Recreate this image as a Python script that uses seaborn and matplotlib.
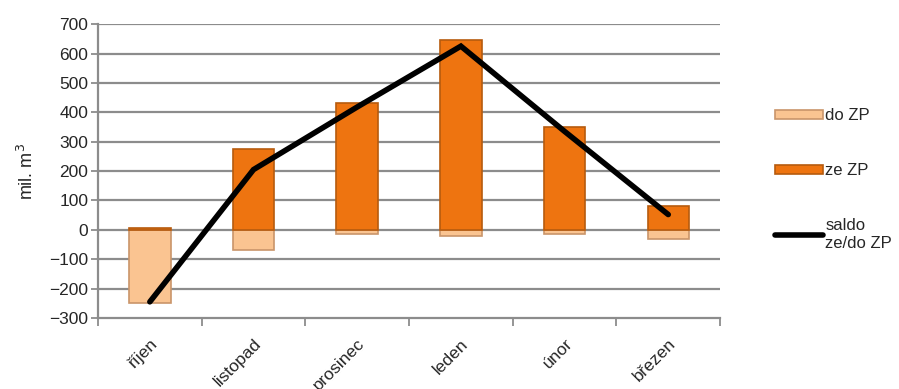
import matplotlib
matplotlib.use("Agg")
import matplotlib.pyplot as plt
import seaborn as sns
import pandas as pd
from matplotlib.patches import Patch
from matplotlib.lines import Line2D

months = ["říjen", "listopad", "prosinec", "leden", "únor", "březen"]
ze_zp = [5, 275, 432, 645, 350, 82]
do_zp = [-250, -70, -15, -20, -15, -30]
saldo = [-245, 205, 418, 625, 335, 52]

sns.set_theme(style="white")
plt.rcParams["font.family"] = ["Liberation Sans", "DejaVu Sans"]

df = pd.DataFrame({"month": months, "ze": ze_zp, "do": do_zp, "saldo": saldo})

fig = plt.figure(figsize=(8.99, 3.89), dpi=100)
ax = fig.add_axes([0.109, 0.1825, 0.692, 0.7555])

grid_c = "#8c8c8c"
ax.set_ylim(-300, 700)
ax.set_yticks(range(-300, 701, 100))
for v in range(-200, 701, 100):
    ax.axhline(v, color=grid_c, lw=1.6, zorder=0)

c_do, e_do = "#FAC491", "#C9956A"
c_ze, e_ze = "#EE7410", "#B65B0E"

sns.barplot(data=df, x="month", y="do", ax=ax, color=c_do, width=0.4,
            edgecolor=e_do, linewidth=1.2, saturation=1, zorder=2)
sns.barplot(data=df, x="month", y="ze", ax=ax, color=c_ze, width=0.4,
            edgecolor=e_ze, linewidth=1.2, saturation=1, zorder=2)
sns.lineplot(data=df, x="month", y="saldo", ax=ax, color="black", lw=4,
             zorder=3, solid_capstyle="round", solid_joinstyle="miter")

ax.set_xlim(-0.5, 5.5)
ax.set_xticks([i - 0.5 for i in range(7)], minor=False)
ax.set_xticklabels([])
ax.set_xticks(range(6), minor=True)
ax.set_xticklabels(months, minor=True, rotation=45, ha="right",
                   rotation_mode="anchor", fontsize=12.5)
ax.tick_params(axis="x", which="major", length=6, width=1.3, color=grid_c,
               direction="out", bottom=True)
ax.tick_params(axis="x", which="minor", length=0, pad=13)
ax.tick_params(axis="y", length=5, width=1.3, color=grid_c, direction="out",
               left=True, labelsize=12.5, pad=2)

for s in ["top", "right"]:
    ax.spines[s].set_visible(False)
for s in ["left", "bottom"]:
    ax.spines[s].set_color(grid_c)
    ax.spines[s].set_linewidth(1.6)

ax.set_xlabel("")
ax.set_ylabel("mil. m$^3$", fontsize=13, labelpad=9)

handles = [
    Patch(facecolor=c_do, edgecolor=e_do, linewidth=1.2),
    Patch(facecolor=c_ze, edgecolor=e_ze, linewidth=1.2),
    Line2D([0], [0], color="black", lw=4),
]
labels = ["do ZP", "ze ZP", "saldo\nze/do ZP"]
fig.legend(handles, labels, loc="upper left", bbox_to_anchor=(0.845, 0.76),
           frameon=False, fontsize=12, handlelength=2.9, handleheight=0.5,
           handletextpad=0.15, labelspacing=2.4)

fig.savefig("out.png", dpi=100)
